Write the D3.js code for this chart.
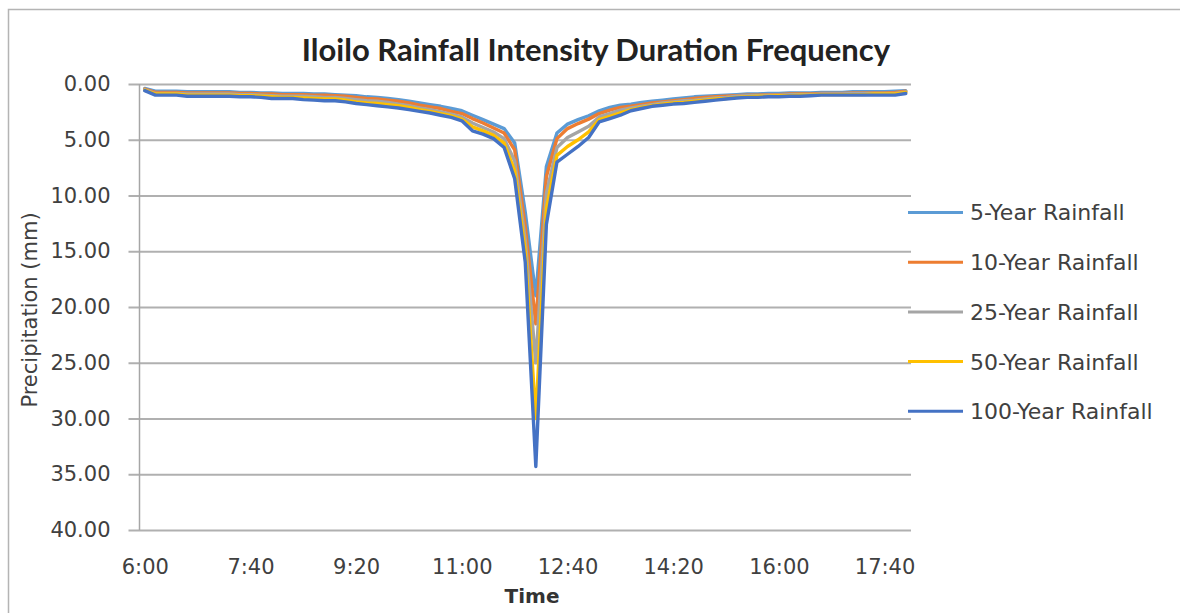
<!DOCTYPE html>
<html>
<head>
<meta charset="utf-8">
<script src="https://cdn.jsdelivr.net/npm/d3@7"></script>
<style>
  body { margin: 0; background: #fff; }
  svg { display: block; }
  .tick text { font-family: "DejaVu Sans", sans-serif; font-size: 21px; fill: #404040; }
</style>
</head>
<body>
<script>
// categories: 6:00 to 18:00 every 10 minutes
var times = [];
for (var m = 360; m <= 1080; m += 10) {
  times.push(Math.floor(m / 60) + ":" + d3.format("02")(m % 60));
}
var xTickLabels = ["6:00", "7:40", "9:20", "11:00", "12:40", "14:20", "16:00", "17:40"];
var yTicks = [0, 5, 10, 15, 20, 25, 30, 35, 40];

var seriesNames = ["5-Year Rainfall", "10-Year Rainfall", "25-Year Rainfall", "50-Year Rainfall", "100-Year Rainfall"];
var seriesColors = ["#5B9BD5", "#ED7D31", "#A5A5A5", "#FFC000", "#4472C4"];

var rain5 = [0.40,0.65,0.65,0.65,0.70,0.70,0.70,0.70,0.70,0.75,0.75,0.80,0.80,0.85,0.85,0.85,0.90,0.90,0.95,1.00,
  1.05,1.15,1.20,1.30,1.40,1.55,1.70,1.85,2.00,2.20,2.40,2.80,3.20,3.60,4.00,5.30,11.50,19.00,7.40,4.40,
  3.60,3.20,2.85,2.40,2.10,1.90,1.80,1.65,1.55,1.45,1.35,1.25,1.15,1.10,1.05,1.00,0.95,0.90,0.90,0.85,
  0.85,0.80,0.80,0.80,0.75,0.75,0.75,0.70,0.70,0.70,0.70,0.65,0.60];
var rain10 = [0.45,0.75,0.75,0.75,0.80,0.80,0.80,0.80,0.80,0.85,0.85,0.90,0.90,0.95,0.95,0.95,1.00,1.00,1.05,1.10,
  1.20,1.30,1.35,1.45,1.55,1.70,1.90,2.05,2.20,2.45,2.65,3.10,3.50,3.95,4.40,5.90,12.80,21.50,8.30,4.90,
  4.00,3.55,3.15,2.65,2.35,2.10,2.00,1.85,1.70,1.60,1.50,1.40,1.30,1.20,1.15,1.10,1.05,1.00,1.00,0.95,
  0.95,0.90,0.90,0.90,0.85,0.85,0.85,0.80,0.80,0.80,0.80,0.75,0.65];
var rain25 = [0.50,0.85,0.85,0.85,0.90,0.90,0.90,0.90,0.90,0.95,0.95,1.00,1.05,1.10,1.10,1.10,1.15,1.20,1.20,1.30,
  1.40,1.50,1.55,1.65,1.80,1.95,2.15,2.30,2.50,2.70,2.95,3.50,3.90,4.30,4.90,6.90,14.00,25.00,9.80,5.70,
  4.80,4.30,3.80,2.95,2.65,2.35,2.15,2.00,1.85,1.70,1.60,1.50,1.45,1.35,1.25,1.20,1.10,1.05,1.05,1.00,
  1.00,0.95,0.95,0.95,0.90,0.90,0.90,0.85,0.85,0.85,0.85,0.85,0.70];
var rain50 = [0.55,0.90,0.90,0.90,1.00,1.00,1.00,1.00,1.00,1.05,1.05,1.10,1.15,1.20,1.20,1.25,1.30,1.35,1.35,1.45,
  1.60,1.70,1.75,1.85,1.95,2.10,2.30,2.45,2.65,2.85,3.15,3.85,4.20,4.60,5.30,7.80,15.00,30.00,11.20,6.40,
  5.60,5.00,4.30,3.20,2.90,2.60,2.30,2.10,1.95,1.80,1.70,1.65,1.55,1.45,1.35,1.30,1.20,1.15,1.10,1.10,
  1.05,1.05,1.00,1.00,0.95,0.95,0.95,0.95,0.95,0.90,0.90,0.90,0.75];
var rain100 = [0.60,1.00,1.00,1.00,1.10,1.10,1.10,1.10,1.10,1.15,1.15,1.20,1.30,1.30,1.30,1.40,1.45,1.50,1.50,1.60,
  1.75,1.85,1.95,2.05,2.15,2.30,2.45,2.60,2.80,3.00,3.30,4.20,4.50,4.90,5.70,8.50,16.00,34.30,12.60,7.00,
  6.30,5.60,4.80,3.40,3.10,2.80,2.40,2.20,2.00,1.90,1.80,1.75,1.65,1.55,1.45,1.35,1.25,1.20,1.20,1.15,
  1.15,1.10,1.10,1.05,1.00,1.00,1.00,1.00,1.00,1.00,1.00,1.00,0.85];

var allSeries = [rain5, rain10, rain25, rain50, rain100];

var width = 1180, height = 613;
var plotLeft = 139.5, plotRight = 911, plotTop = 84, plotBottom = 530;

var svg = d3.select("body").append("svg")
  .attr("width", width)
  .attr("height", height);

// soft edge like the scaled-up original
svg.append("defs").append("filter")
  .attr("id", "soft")
  .append("feGaussianBlur").attr("stdDeviation", 0.7);

svg.append("rect")
  .attr("x", 8.5).attr("y", 9.5)
  .attr("width", width + 10).attr("height", height + 10)
  .attr("fill", "#fff")
  .attr("stroke", "#b4b4b4")
  .attr("stroke-width", 1.5);

var x = d3.scalePoint().domain(times).range([plotLeft, plotRight]).padding(0.5);
var y = d3.scaleLinear().domain([0, 40]).range([plotTop, plotBottom]);

// gridlines + y axis
var yAxis = svg.append("g")
  .attr("transform", "translate(" + plotLeft + ",0)")
  .call(d3.axisLeft(y).tickValues(yTicks).tickFormat(d3.format(".2f"))
    .tickSize(-(plotRight - plotLeft)).tickPadding(29));
yAxis.select(".domain").remove();
yAxis.selectAll(".tick line").attr("stroke", "#b0b0b0").attr("stroke-width", 2).attr("x1", -11);

svg.append("line")
  .attr("x1", plotLeft).attr("x2", plotLeft).attr("y1", plotTop).attr("y2", plotBottom)
  .attr("stroke", "#a6a6a6").attr("stroke-width", 1.5);

// x axis
var xAxis = svg.append("g")
  .attr("transform", "translate(0," + plotBottom + ")")
  .call(d3.axisBottom(x).tickValues(xTickLabels).tickSize(0).tickPadding(29));
xAxis.select(".domain").remove();

// lines
var line = d3.line()
  .x(function (d, i) { return x(times[i]); })
  .y(function (d) { return y(d); });

svg.append("g")
  .attr("filter", "url(#soft)")
  .selectAll(".series")
  .data(allSeries)
  .enter().append("path")
  .attr("class", "series")
  .attr("d", line)
  .attr("fill", "none")
  .attr("stroke", function (d, i) { return seriesColors[i]; })
  .attr("stroke-width", 3.4)
  .attr("stroke-linejoin", "round")
  .attr("stroke-linecap", "round");

// title
svg.append("text")
  .attr("x", 596).attr("y", 61)
  .attr("text-anchor", "middle")
  .style("font-family", "Lato, sans-serif")
  .style("font-weight", "bold")
  .style("font-size", "31px")
  .style("fill", "#222")
  .text("Iloilo Rainfall Intensity Duration Frequency");

// axis titles
svg.append("text")
  .attr("transform", "translate(37,310) rotate(-90)")
  .attr("text-anchor", "middle")
  .style("font-family", "DejaVu Sans, sans-serif")
  .style("font-size", "21px")
  .style("fill", "#404040")
  .text("Precipitation (mm)");

svg.append("text")
  .attr("x", 532).attr("y", 603)
  .attr("text-anchor", "middle")
  .style("font-family", "DejaVu Sans, sans-serif")
  .style("font-weight", "bold")
  .style("font-size", "20px")
  .style("fill", "#333")
  .text("Time");

// legend
var legend = svg.append("g").selectAll(".legend")
  .data(seriesNames)
  .enter().append("g")
  .attr("class", "legend")
  .attr("transform", function (d, i) { return "translate(908," + (212.5 + i * 49.7) + ")"; });

legend.append("line")
  .attr("x1", 0).attr("x2", 55)
  .attr("stroke", function (d, i) { return seriesColors[i]; })
  .attr("stroke-width", 3);

legend.append("text")
  .attr("x", 62).attr("dy", "0.36em")
  .style("font-family", "DejaVu Sans, sans-serif")
  .style("font-size", "22px")
  .style("fill", "#404040")
  .text(function (d) { return d; });
</script>
</body>
</html>
